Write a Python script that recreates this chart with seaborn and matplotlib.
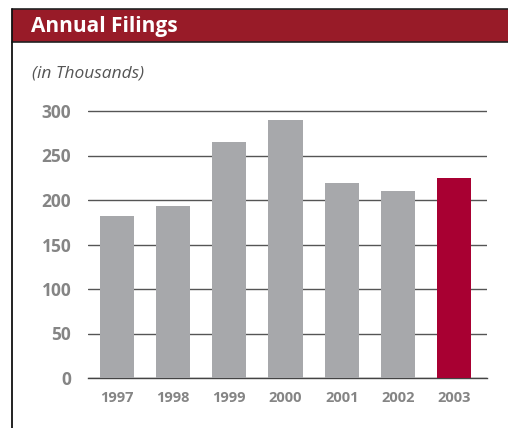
import matplotlib
matplotlib.use("Agg")
from matplotlib import pyplot as plt
from matplotlib.patches import Rectangle
from matplotlib.lines import Line2D
import seaborn as sns
import pandas as pd

years = ["1997", "1998", "1999", "2000", "2001", "2002", "2003"]
filings = [182, 193, 265, 290, 219.5, 210.5, 225]
y_ticks = [0, 50, 100, 150, 200, 250, 300]

GRAY = "#a7a8ab"
RED = "#a80032"
HEADER = "#981b28"
TEXT_GRAY = "#858585"

sns.set_style("white")
plt.rcParams["font.family"] = ["Open Sans", "DejaVu Sans"]

W, H = 508, 428
fig = plt.figure(figsize=(W / 100, H / 100), dpi=100)

# header band and frame
fig.patches.append(Rectangle((12 / W, 1 - 42 / H), 1 - 12 / W, 33 / H,
                             transform=fig.transFigure, facecolor=HEADER,
                             edgecolor="none", zorder=0))
for yy in (9, 42):
    fig.lines.append(Line2D([12 / W, 1], [1 - yy / H, 1 - yy / H],
                            transform=fig.transFigure, color="#222222", lw=1.2))
fig.lines.append(Line2D([12 / W, 12 / W], [0, 1 - 9 / H],
                        transform=fig.transFigure, color="#111111", lw=1.3))

fig.text(31 / W, 1 - 26.5 / H, "Annual Filings", color="white", fontsize=15,
         fontweight="bold", va="center", ha="left")
fig.text(32 / W, 1 - 74 / H, "(in Thousands)", color="#555555", fontsize=12.5,
         style="italic", va="center", ha="left")

# axes
ymax = 303
px_per_unit = 0.89
top_px = 378 - ymax * px_per_unit
ax = fig.add_axes([88 / W, 1 - 378 / H, (487 - 88) / W, (378 - top_px) / H])

df = pd.DataFrame({"year": years, "filings": filings})
palette = [GRAY] * (len(years) - 1) + [RED]
sns.barplot(data=df, x="year", y="filings", hue="year", palette=palette,
            legend=False, width=0.606, saturation=1, linewidth=0,
            ax=ax, zorder=3)

ax.set_ylim(0, ymax)
ax.set_xlim(-0.517, 6.588)
ax.set_yticks(y_ticks)
ax.yaxis.grid(True, color="#555555", lw=1.0, zorder=0)
ax.set_axisbelow(True)
for s in ("top", "right", "left"):
    ax.spines[s].set_visible(False)
ax.spines["bottom"].set_color("#444444")
ax.spines["bottom"].set_linewidth(1.0)
ax.tick_params(axis="both", length=0)
ax.tick_params(axis="y", pad=12, labelsize=12.5, labelcolor=TEXT_GRAY)
ax.tick_params(axis="x", pad=9, labelsize=10.5, labelcolor=TEXT_GRAY)
for lbl in ax.get_xticklabels() + ax.get_yticklabels():
    lbl.set_fontweight("bold")
ax.set_xlabel("")
ax.set_ylabel("")

fig.savefig("out.png", dpi=100)
